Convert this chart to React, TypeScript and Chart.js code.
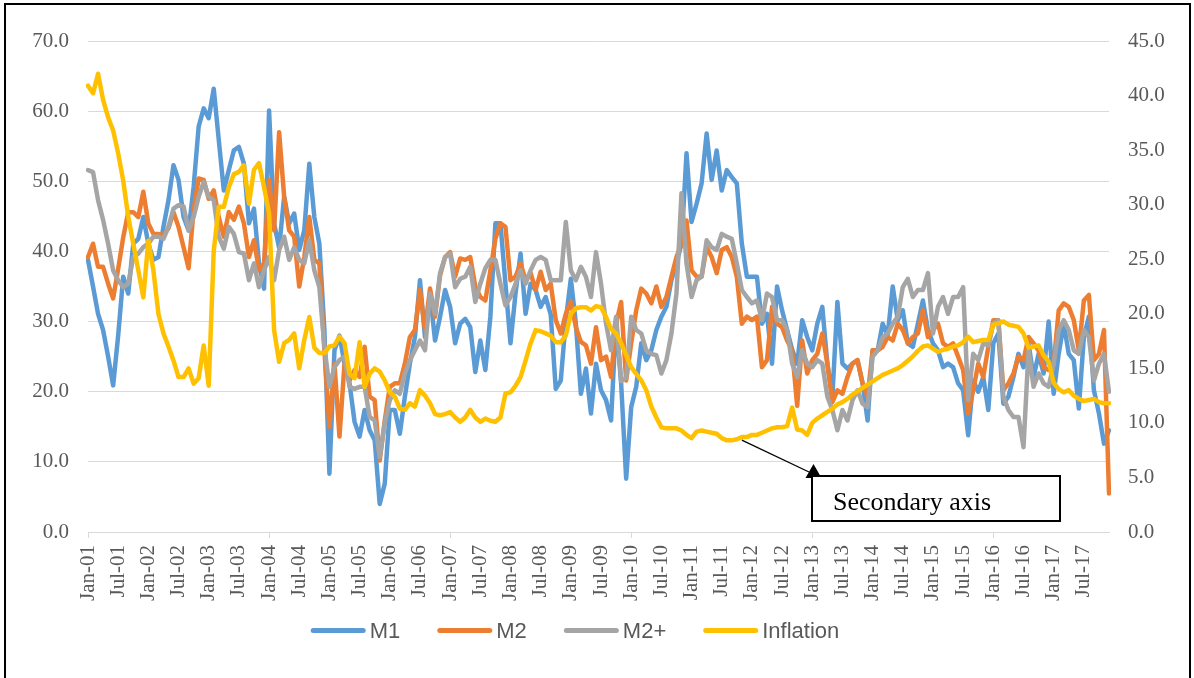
import { useEffect, useRef } from 'react';
import { Chart, registerables } from 'chart.js';

Chart.register(...registerables);

const MONTHS = ['Jan', 'Feb', 'Mar', 'Apr', 'May', 'Jun', 'Jul', 'Aug', 'Sep', 'Oct', 'Nov', 'Dec'];
const YEARS = ['01', '02', '03', '04', '05', '06', '07', '08', '09', '10', '11', '12', '13', '14', '15', '16', '17'];
const categories: string[] = [];
for (const y of YEARS) for (const m of MONTHS) categories.push(`${m}-${y}`);

// M1 (left axis), one row per year
const m1 = [
  38.8, 35.0, 31.1, 28.8, 25.0, 20.9, 28.0, 36.4, 34.0, 41.1, 41.8, 44.9,
  41.1, 38.8, 39.2, 43.5, 47.3, 52.3, 50.2, 44.9, 43.0, 49.2, 57.8, 60.4,
  59.0, 63.2, 55.9, 48.7, 51.6, 54.4, 54.9, 52.5, 44.0, 46.1, 38.3, 34.7,
  60.1, 44.0, 40.5, 47.8, 44.0, 45.4, 40.2, 43.0, 52.5, 44.9, 41.1, 28.8,
  8.3, 25.9, 28.0, 24.0, 21.2, 15.7, 13.6, 17.4, 14.5, 13.1, 4.0, 6.9,
  17.4, 17.4, 14.0, 19.3, 24.0, 27.8, 35.9, 27.8, 34.0, 27.3, 30.7, 34.5,
  32.1, 26.9, 29.7, 30.4, 29.2, 22.8, 27.3, 23.1, 30.7, 44.0, 44.0, 35.4,
  26.9, 34.0, 39.7, 31.1, 35.4, 34.5, 32.1, 33.5, 31.0, 20.4, 21.6, 30.2,
  36.1, 29.7, 19.7, 23.3, 16.9, 24.0, 20.2, 18.8, 15.9, 30.2, 21.2, 7.6,
  17.8, 20.7, 26.9, 24.5, 25.9, 28.8, 30.7, 32.1, 35.9, 38.3, 41.1, 54.0,
  44.2, 46.8, 49.7, 56.8, 50.2, 54.4, 48.7, 51.6, 50.6, 49.7, 41.1, 36.4,
  36.4, 36.4, 29.7, 31.1, 24.0, 35.0, 31.6, 28.8, 26.0, 24.0, 30.2, 27.8,
  25.9, 29.7, 32.1, 24.0, 19.3, 32.8, 24.0, 23.3, 24.0, 24.5, 21.2, 15.9,
  25.9, 25.9, 29.7, 28.0, 35.0, 30.2, 31.6, 26.9, 26.4, 29.7, 33.0, 28.8,
  26.9, 25.9, 23.5, 24.0, 23.5, 21.2, 20.2, 13.8, 21.6, 20.0, 22.1, 17.4,
  26.9, 28.3, 18.3, 19.3, 22.1, 25.4, 23.5, 26.9, 22.1, 25.4, 22.6, 30.0,
  19.7, 25.4, 29.7, 25.4, 24.5, 17.6, 27.8, 30.7, 20.2, 16.9, 12.6, 14.5,
];

// M2 (left axis)
const m2 = [
  39.2, 41.1, 37.8, 37.8, 35.4, 33.3, 37.5, 42.0, 45.6, 45.6, 44.9, 48.5,
  44.0, 42.5, 42.5, 42.3, 43.3, 45.6, 43.5, 40.6, 37.6, 45.9, 50.4, 50.2,
  47.5, 48.7, 44.9, 42.1, 45.6, 44.5, 46.4, 44.0, 39.2, 41.6, 37.3, 38.3,
  50.2, 43.0, 57.0, 47.8, 43.0, 42.1, 35.0, 39.2, 44.9, 38.8, 38.3, 25.9,
  15.0, 24.0, 13.6, 24.0, 21.6, 23.1, 22.1, 26.4, 19.3, 18.8, 10.2, 15.9,
  20.7, 21.2, 21.2, 24.0, 27.8, 28.8, 34.5, 28.8, 34.7, 30.7, 36.6, 39.2,
  39.9, 36.4, 39.0, 38.8, 39.2, 35.0, 33.5, 33.0, 37.3, 41.8, 44.0, 43.5,
  35.9, 36.4, 38.3, 35.9, 36.9, 34.5, 37.1, 34.5, 35.4, 30.2, 28.3, 31.1,
  32.8, 29.2, 27.1, 26.6, 24.0, 29.2, 24.5, 25.0, 22.1, 29.7, 32.8, 21.6,
  26.9, 31.6, 34.7, 34.0, 32.6, 35.0, 32.1, 33.5, 36.4, 39.2, 41.1, 44.4,
  37.3, 36.4, 36.4, 40.6, 39.2, 36.9, 40.2, 40.6, 39.2, 36.4, 29.7, 30.7,
  30.2, 30.7, 23.5, 24.5, 32.1, 29.7, 29.2, 27.3, 25.9, 18.0, 27.3, 22.6,
  24.5, 25.4, 28.3, 24.0, 18.5, 20.2, 19.7, 22.1, 24.0, 24.5, 21.2, 19.3,
  25.9, 25.9, 26.4, 27.8, 27.3, 29.7, 28.8, 26.9, 27.8, 28.3, 31.6, 27.8,
  28.8, 29.7, 26.9, 26.4, 26.9, 25.0, 23.1, 16.9, 20.2, 24.0, 22.1, 26.4,
  30.2, 30.2, 20.2, 21.2, 22.6, 25.0, 24.5, 27.8, 26.9, 25.9, 23.5, 23.1,
  24.0, 31.6, 32.6, 32.1, 30.2, 25.9, 33.0, 33.8, 24.5, 25.4, 28.8, 5.5,
];

// M2+ (left axis)
const m2plus = [
  51.6, 51.3, 47.3, 44.5, 41.1, 37.3, 35.9, 34.9, 35.4, 39.2, 39.7, 40.6,
  41.1, 42.1, 42.1, 41.8, 43.5, 46.1, 46.6, 46.4, 43.0, 44.9, 47.8, 49.9,
  47.8, 47.3, 42.1, 40.4, 43.5, 42.5, 39.9, 39.7, 35.9, 38.3, 34.9, 37.3,
  39.2, 35.9, 40.2, 42.1, 38.8, 40.6, 38.8, 38.3, 41.6, 37.3, 34.9, 26.4,
  20.7, 23.5, 24.5, 25.0, 20.7, 20.4, 20.7, 20.7, 16.4, 15.9, 10.7, 15.5,
  18.8, 20.2, 19.7, 22.6, 24.5, 25.9, 27.3, 25.9, 34.0, 31.1, 36.9, 39.2,
  39.7, 34.9, 36.1, 36.4, 37.8, 32.8, 35.4, 37.6, 38.8, 38.8, 35.4, 32.3,
  33.5, 35.4, 37.3, 35.4, 37.3, 38.8, 39.2, 38.8, 35.9, 35.9, 35.9, 44.2,
  37.3, 35.9, 37.8, 36.4, 33.5, 39.9, 35.4, 29.7, 25.9, 30.7, 21.5, 22.0,
  30.7, 28.8, 28.3, 25.9, 25.4, 25.2, 22.6, 24.5, 28.3, 34.0, 48.3, 38.3,
  33.5, 35.9, 36.4, 41.6, 40.6, 40.2, 42.5, 42.1, 41.8, 38.3, 34.5, 33.5,
  32.6, 33.0, 30.2, 34.0, 33.5, 30.2, 30.2, 28.8, 24.0, 22.1, 25.9, 24.0,
  23.5, 24.5, 24.0, 19.3, 17.4, 14.5, 17.4, 15.9, 18.8, 20.2, 18.3, 17.8,
  25.0, 25.9, 27.8, 28.3, 29.7, 30.7, 34.9, 36.1, 33.5, 34.5, 34.5, 36.9,
  28.3, 32.1, 33.5, 31.1, 33.5, 33.5, 34.9, 18.8, 25.4, 24.5, 26.9, 26.6,
  29.7, 30.2, 19.3, 17.4, 16.4, 16.4, 12.1, 25.9, 20.7, 22.6, 21.2, 20.7,
  24.0, 28.8, 30.2, 28.8, 25.9, 25.4, 28.8, 27.8, 21.6, 24.0, 25.4, 20.0,
];

// Inflation (secondary axis)
const inflation = [
  40.9, 40.2, 42.0, 39.6, 38.0, 36.8, 34.7, 32.2, 28.9, 26.4, 24.0, 21.5,
  26.7, 24.0, 20.0, 18.2, 17.0, 15.7, 14.2, 14.2, 15.0, 13.6, 14.1, 17.1,
  13.4, 25.8, 29.8, 29.8, 31.6, 32.8, 33.0, 33.6, 30.1, 33.2, 33.8, 31.6,
  29.2, 18.5, 15.6, 17.3, 17.6, 18.2, 15.0, 17.6, 19.7, 16.9, 16.4, 16.4,
  17.0, 17.1, 17.9, 17.3, 14.5, 14.1, 17.4, 13.3, 14.5, 15.0, 14.7, 13.9,
  12.8, 12.4, 11.3, 11.2, 11.8, 11.5, 13.0, 12.5, 11.8, 10.8, 10.7, 10.8,
  11.0, 10.5, 10.1, 10.5, 11.2, 10.5, 10.1, 10.4, 10.2, 10.1, 10.5, 12.7,
  12.8, 13.4, 14.2, 15.7, 17.3, 18.5, 18.4, 18.2, 18.0, 17.4, 17.4, 18.0,
  20.0, 20.5, 20.6, 20.6, 20.3, 20.7, 20.6, 19.7, 18.6, 18.2, 17.3, 16.2,
  15.1, 14.5, 13.9, 13.0, 11.5, 10.5, 9.6, 9.5, 9.5, 9.5, 9.3, 8.9,
  8.6, 9.2, 9.3, 9.2, 9.1, 9.0, 8.6, 8.4, 8.4, 8.5, 8.7, 8.7,
  8.9, 8.9, 9.1, 9.3, 9.5, 9.6, 9.6, 9.7, 11.4, 9.4, 9.3, 8.9,
  10.0, 10.4, 10.7, 11.0, 11.3, 11.7, 11.9, 12.2, 12.6, 12.9, 13.2, 13.5,
  13.8, 14.1, 14.4, 14.6, 14.8, 15.0, 15.3, 15.7, 16.1, 16.6, 17.0, 17.1,
  16.8, 16.5, 16.7, 16.8, 17.0, 17.1, 17.4, 17.9, 17.4, 17.5, 17.6, 17.6,
  19.0, 19.1, 19.3, 19.0, 18.9, 18.8, 18.2, 16.9, 17.0, 17.1, 16.2, 15.6,
  13.7, 13.1, 12.8, 13.0, 12.5, 12.2, 12.0, 12.1, 12.2, 11.9, 11.8, 11.8,
];

const SERIES_LABELS = ['M1', 'M2', 'M2+', 'Inflation'];
const SERIES_COLORS = ['#5B9BD5', '#ED7D31', '#A5A5A5', '#FFC000'];
const LEFT_AXIS = { min: 0, max: 70, step: 10 };
const RIGHT_AXIS = { min: 0, max: 45, step: 5 };
const LABEL_EVERY = 6;
const ANNOTATION_TEXT = 'Secondary axis';
const ANNOTATION_ANCHOR_INDEX = 130;

const SERIF = '"Liberation Serif", "Times New Roman", serif';
const SANS = '"Liberation Sans", Arial, sans-serif';
const GRID = '#D9D9D9';
const TEXT = '#595959';

const decorPlugin = {
  id: 'decor',
  beforeDraw(chart: any) {
    const { ctx, width, height } = chart;
    ctx.save();
    ctx.fillStyle = '#ffffff';
    ctx.fillRect(0, 0, width, height);
    ctx.restore();
  },
  afterDraw(chart: any) {
    const { ctx } = chart;
    const xs = chart.scales.x;
    const ys = chart.scales.y1;
    ctx.save();
    // outer frame
    ctx.strokeStyle = '#000000';
    ctx.lineWidth = 2;
    ctx.strokeRect(5, 4, 1185, 720);

    // legend (line swatches + labels, centred under the plot)
    ctx.font = `22px ${SANS}`;
    const ds = chart.data.datasets;
    const SW = 55, GT = 4, GI = 37;
    const widths = ds.map((d: any) => ctx.measureText(d.label).width);
    const total = widths.reduce((a: number, w: number) => a + SW + GT + w, 0) + GI * (ds.length - 1);
    let lx = 575 - total / 2;
    const ly = 630.5;
    ds.forEach((d: any, i: number) => {
      ctx.strokeStyle = d.borderColor;
      ctx.lineWidth = 5;
      ctx.lineCap = 'round';
      ctx.beginPath();
      ctx.moveTo(lx + 2.5, ly);
      ctx.lineTo(lx + SW - 2.5, ly);
      ctx.stroke();
      ctx.fillStyle = TEXT;
      ctx.textAlign = 'left';
      ctx.textBaseline = 'middle';
      ctx.fillText(d.label, lx + SW + GT, ly + 1);
      lx += SW + GT + widths[i] + GI;
    });

    // arrow connector from the inflation line
    const sx = xs.getPixelForValue(ANNOTATION_ANCHOR_INDEX);
    const sy = ys.getPixelForValue(inflation[ANNOTATION_ANCHOR_INDEX]) + 3;
    ctx.lineCap = 'butt';
    ctx.strokeStyle = '#000000';
    ctx.lineWidth = 1.3;
    ctx.beginPath();
    ctx.moveTo(sx, sy);
    ctx.lineTo(809, 472);
    ctx.stroke();
    ctx.fillStyle = '#000000';
    ctx.beginPath();
    ctx.moveTo(813.5, 464);
    ctx.lineTo(805.5, 478);
    ctx.lineTo(821.5, 478);
    ctx.closePath();
    ctx.fill();

    // text box
    ctx.fillStyle = '#ffffff';
    ctx.fillRect(812, 476, 248, 45);
    ctx.strokeStyle = '#000000';
    ctx.lineWidth = 2;
    ctx.strokeRect(812, 476, 248, 45);
    ctx.fillStyle = '#000000';
    ctx.font = `26px ${SERIF}`;
    ctx.textBaseline = 'alphabetic';
    ctx.textAlign = 'left';
    ctx.fillText(ANNOTATION_TEXT, 833, 510);
    ctx.restore();
  },
};

export default function App() {
  const ref = useRef<HTMLCanvasElement | null>(null);

  useEffect(() => {
    if (!ref.current) return;
    const common = {
      borderWidth: 4.5,
      pointRadius: 0,
      pointHoverRadius: 0,
      tension: 0,
      fill: false,
      borderCapStyle: 'round',
      borderJoinStyle: 'round',
    };
    const values = [m1, m2, m2plus, inflation];
    const chart = new Chart(ref.current, {
      type: 'line',
      data: {
        labels: categories,
        datasets: SERIES_LABELS.map((label, i) => ({
          ...common,
          label,
          data: values[i],
          borderColor: SERIES_COLORS[i],
          backgroundColor: SERIES_COLORS[i],
          yAxisID: i === 3 ? 'y1' : 'y',
          order: 3 - i,
        })) as any,
      },
      options: {
        animation: false,
        responsive: false,
        maintainAspectRatio: false,
        devicePixelRatio: 1,
        layout: { padding: { left: 0, right: 0, top: 41, bottom: 74 } },
        plugins: {
          legend: { display: false },
          tooltip: { enabled: false },
        },
        scales: {
          x: {
            type: 'category',
            offset: false,
            grid: {
              display: true,
              drawOnChartArea: false,
              drawTicks: true,
              tickLength: 6,
              color: (c: any) => (c.index % LABEL_EVERY === 0 ? GRID : 'rgba(0,0,0,0)'),
              tickColor: (c: any) => (c.index % LABEL_EVERY === 0 ? GRID : 'rgba(0,0,0,0)'),
            },
            border: { display: true, color: GRID, width: 1 },
            ticks: {
              autoSkip: false,
              minRotation: 90,
              maxRotation: 90,
              padding: 7,
              color: TEXT,
              font: { family: SERIF, size: 21 },
              callback: (_v: any, i: number) => (i % LABEL_EVERY === 0 ? categories[i] : null),
            },
            afterFit: (s: any) => { s.height = 72; },
          },
          y: {
            position: 'left',
            min: LEFT_AXIS.min,
            max: LEFT_AXIS.max,
            ticks: {
              stepSize: LEFT_AXIS.step,
              padding: 19,
              color: TEXT,
              font: { family: SERIF, size: 21 },
              callback: (v: any) => Number(v).toFixed(1),
            },
            grid: { color: GRID, lineWidth: 1, drawTicks: false },
            border: { display: false },
            afterFit: (s: any) => { s.width = 88; },
          },
          y1: {
            position: 'right',
            min: RIGHT_AXIS.min,
            max: RIGHT_AXIS.max,
            ticks: {
              stepSize: RIGHT_AXIS.step,
              padding: 19,
              color: TEXT,
              font: { family: SERIF, size: 21 },
              callback: (v: any) => Number(v).toFixed(1),
            },
            grid: { display: false, drawTicks: false },
            border: { display: false },
            afterFit: (s: any) => { s.width = 85; },
          },
        },
      } as any,
      plugins: [decorPlugin],
    });
    return () => chart.destroy();
  }, []);

  return (
    <div style={{ position: 'fixed', left: 0, top: 0, width: 1194, height: 678, background: '#fff' }}>
      <canvas ref={ref} width={1194} height={678} style={{ display: 'block', width: 1194, height: 678 }} />
    </div>
  );
}
